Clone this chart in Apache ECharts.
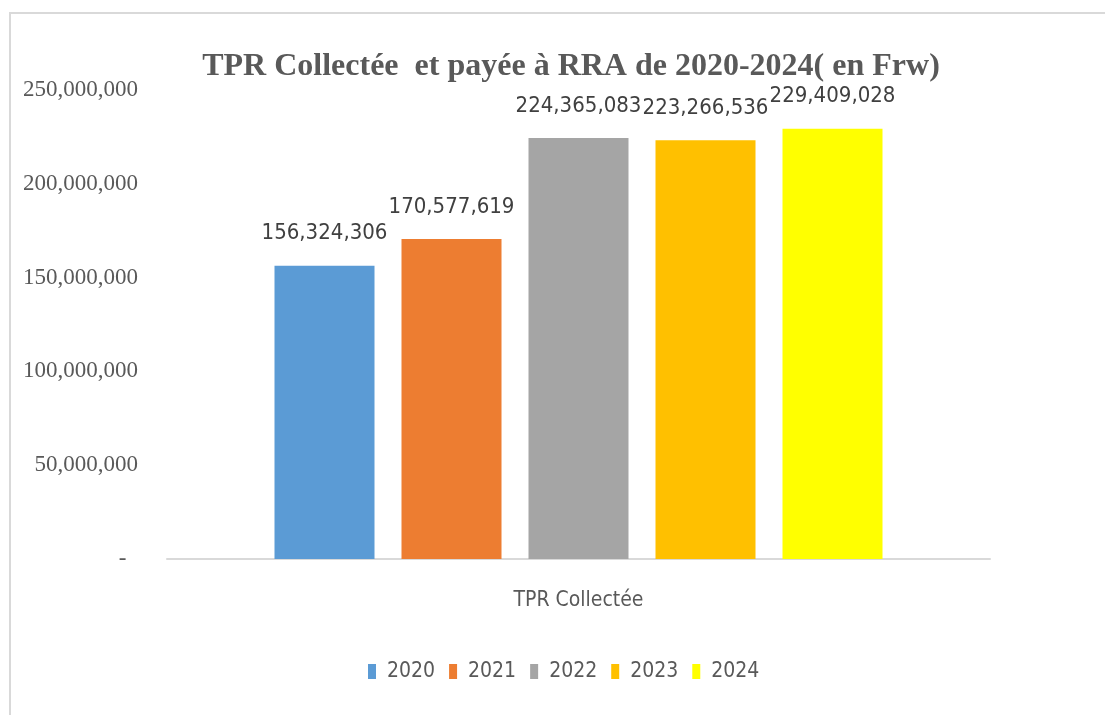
<!DOCTYPE html>
<html>
<head>
<meta charset="utf-8">
<script src="https://cdn.jsdelivr.net/npm/echarts@6/dist/echarts.min.js"></script>
<style>html,body{margin:0;padding:0;background:#fff;}#c{width:1105px;height:715px;}</style>
</head>
<body>
<div id="c"></div>
<script>
const categories = ['TPR Collectée'];
const years = ['2020', '2021', '2022', '2023', '2024'];
const values = [156324306, 170577619, 224365083, 223266536, 229409028];
const colors = ['#5b9bd5', '#ed7d31', '#a5a5a5', '#ffc000', '#ffff00'];
const yTicks = { min: 0, max: 250000000, interval: 50000000 };
const titleText = 'TPR Collectée  et payée à RRA de 2020-2024( en Frw)';

const fmt = v => v.toString().replace(/\B(?=(\d{3})+(?!\d))/g, ',');
const narrow = '"DejaVu Sans Condensed", "Liberation Sans Narrow", sans-serif';
const serif = '"Liberation Serif", "Times New Roman", serif';

const chart = echarts.init(document.getElementById('c'));
chart.setOption({
  animation: false,
  backgroundColor: '#fff',
  graphic: [{
    type: 'rect',
    shape: { x: 10, y: 13, width: 1200, height: 800 },
    style: { fill: 'none', stroke: '#d9d9d9', lineWidth: 2 },
    silent: true
  }],
  title: {
    text: titleText,
    left: 566, top: 46, textAlign: 'center',
    textStyle: { fontFamily: serif, fontWeight: 'bold', fontSize: 32, color: '#595959' }
  },
  grid: { left: 167, right: 115, top: 90, bottom: 156 },
  legend: {
    data: years,
    left: 363, top: 656,
    itemWidth: 8, itemHeight: 15, itemGap: 14,
    icon: 'rect',
    textStyle: { fontFamily: narrow, fontSize: 21, color: '#595959', padding: [0, 0, 0, 6] }
  },
  xAxis: {
    type: 'category',
    data: categories,
    axisLine: { lineStyle: { color: '#d9d9d9', width: 2 } },
    axisTick: { show: false },
    axisLabel: { fontFamily: narrow, fontSize: 21, color: '#595959', margin: 31 }
  },
  yAxis: {
    type: 'value',
    min: yTicks.min, max: yTicks.max, interval: yTicks.interval,
    axisLine: { show: false },
    axisTick: { show: false },
    splitLine: { show: false },
    axisLabel: {
      fontFamily: serif, fontSize: 23, color: '#595959', margin: 29,
      formatter: v => v === 0 ? '-  ' : fmt(v)
    }
  },
  series: years.map((y, i) => ({
    name: y,
    type: 'bar',
    data: [values[i]],
    barWidth: 100,
    barGap: '27%',
    itemStyle: { color: colors[i] },
    label: {
      show: true, position: 'top', distance: 21,
      fontFamily: narrow, fontSize: 22, color: '#404040',
      formatter: p => fmt(p.value)
    }
  }))
});
</script>
</body>
</html>
